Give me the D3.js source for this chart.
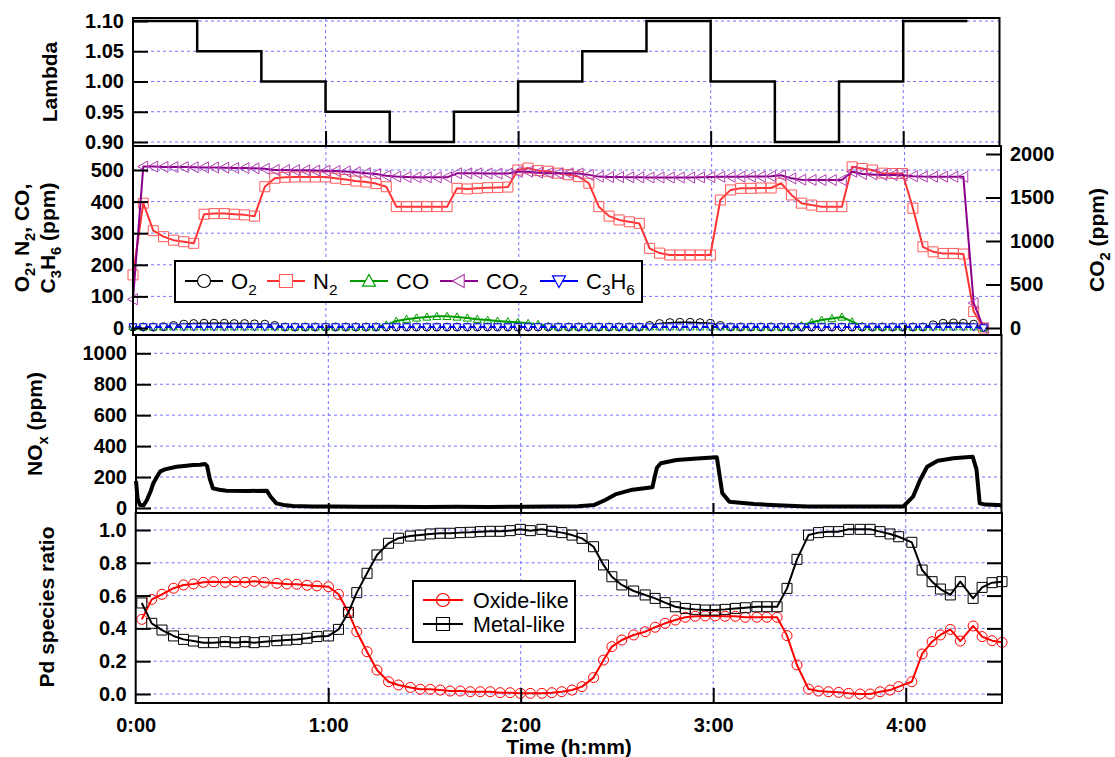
<!DOCTYPE html>
<html><head><meta charset="utf-8">
<script src="https://cdn.jsdelivr.net/npm/d3@7"></script>
<style>body{margin:0;background:#fff} svg{display:block} text{font-family:"Liberation Sans",Arial,Helvetica,sans-serif}</style>
</head><body><svg id="c" width="1115" height="757"></svg>
<script>
// ---------------- DATA ----------------
const timeTicks = [0, 60, 120, 180, 240];
const timeLabels = ["0:00", "1:00", "2:00", "3:00", "4:00"];

const lambdaMinutes = [0, 20, 40, 60, 80, 100, 120, 140, 160, 180, 200, 220, 240, 260];
const lambdaValues = [1.10, 1.05, 1.00, 0.95, 0.90, 0.95, 1.00, 1.05, 1.10, 1.00, 0.90, 1.00, 1.10, 1.10];
const lambdaTicks = [0.90, 0.95, 1.00, 1.05, 1.10];

const gasMinutes = [0, 3.2, 6.3, 9.5, 12.6, 15.8, 18.9, 22.1, 25.2, 28.4, 31.5, 34.7, 37.8, 41.0, 44.1, 47.3, 50.4, 53.6, 56.7, 59.9,
  63.0, 66.2, 69.3, 72.5, 75.6, 78.8, 81.9, 85.1, 88.2, 91.4, 94.5, 97.7, 100.8, 104.0, 107.1, 110.3, 113.4, 116.6, 119.7, 122.9,
  126.0, 129.2, 132.3, 135.5, 138.6, 141.8, 144.9, 148.1, 151.2, 154.4, 157.5, 160.7, 163.8, 167.0, 170.1, 173.3, 176.4, 179.6, 182.7, 185.9,
  189.0, 192.2, 195.3, 198.5, 201.6, 204.8, 207.9, 211.1, 214.2, 217.4, 220.5, 223.7, 226.8, 230.0, 233.1, 236.3, 239.4, 242.6, 245.7, 248.9,
  252.0, 255.2, 258.3, 261.5, 264.6];
const o2Values = [3, 3, 3, 4, 8, 12, 14, 15, 15, 15, 14, 14, 13, 12, 8,
  3, 3, 3, 3, 3, 3, 3, 3, 3, 3, 3, 3, 3, 3, 3, 3, 3, 3, 3, 3, 3, 3, 3, 3, 3, 3, 3, 3, 3, 3, 3, 3, 3, 3, 3, 3,
  8, 14, 17, 18, 18, 17, 15, 8,
  3, 3, 3, 3, 3, 3, 3, 3, 3, 3, 3, 3, 3, 3, 3, 3, 3, 3, 3, 3,
  10, 15, 16, 15, 12, 2];
const n2Values = [168, 395, 308, 289, 278, 273, 268, 360, 362, 362, 360, 358, 354, 447, 474, 477, 478, 478, 478, 478,
  474, 470, 465, 462, 457, 447, 384, 384, 384, 384, 384, 384, 442, 440, 442, 444, 445, 446, 500, 506,
  498, 496, 490, 485, 479, 458, 384, 354, 342, 336, 331, 252, 237, 231, 231, 231, 231, 231, 405, 437,
  442, 442, 443, 443, 458, 421, 395, 389, 384, 384, 384, 510, 505, 500, 490, 489, 489, 379, 257, 241,
  236, 236, 234, 52, 0];
const coValues = [5, 4, 4, 4, 4, 4, 4, 4, 4, 4, 4, 4, 4, 4, 4, 4, 4, 4, 4, 4, 4, 4, 4, 4, 4,
  10, 22, 28, 32, 35, 37, 37, 35, 32, 28, 25, 22, 20, 18, 15, 12, 6,
  4, 4, 4, 4, 4, 4, 4, 4, 4, 4, 4, 4, 4, 4, 4, 4, 4, 4, 4, 4, 4, 4, 4, 4,
  8, 18, 25, 30, 35, 20, 6,
  4, 4, 4, 4, 4, 4, 4, 4, 4, 4, 4, 0];
const co2Values = [330, 1855, 1855, 1852, 1850, 1850, 1848, 1846, 1845, 1843, 1840, 1838, 1835, 1830,
  1816, 1815, 1814, 1812, 1810, 1808, 1805, 1800, 1790, 1780, 1770,
  1750, 1740, 1735, 1732, 1732, 1732, 1732,
  1778, 1778, 1778, 1776, 1776, 1775,
  1795, 1797,
  1785, 1780, 1778, 1778, 1776, 1760,
  1740, 1735, 1735, 1732, 1732, 1730, 1730, 1730, 1730, 1730, 1732, 1735,
  1739, 1739, 1739, 1740, 1740, 1745, 1755,
  1720, 1705, 1701, 1700, 1700, 1700,
  1797,
  1770, 1765, 1760, 1758, 1755,
  1745, 1740, 1739, 1739, 1738, 1738,
  287, 0];
const c3h6Values = [3, 3, 3, 3, 3, 3, 3, 3, 3, 3, 3, 3, 3, 3, 3, 3, 3, 3, 3, 3,
  3, 3, 3, 3, 3, 3, 3, 3, 3, 3, 3, 3, 3, 3, 3, 3, 3, 3, 3, 3,
  3, 3, 3, 3, 3, 3, 3, 3, 3, 3, 3, 3, 3, 3, 3, 3, 3, 3, 3, 3,
  3, 3, 3, 3, 3, 3, 3, 3, 3, 3, 3, 3, 3, 3, 3, 3, 3, 3, 3, 3,
  3, 3, 3, 3, 0];
const gasLeftTicks = [0, 100, 200, 300, 400, 500];
const gasRightTicks = [0, 500, 1000, 1500, 2000];

const noxMinutes = [0, 0.5, 1.2, 2.4, 3.4, 4.6, 5.4, 6.5, 7.5, 9, 12.6, 15, 17.8, 20, 21.5, 22.2, 23, 24, 26, 28.2,
  35, 40.8, 42, 43.8, 46, 49, 55, 62, 70, 80, 90, 100, 110, 120, 130, 138, 143, 146.4, 149.8, 154.3,
  161.1, 161.8, 162.5, 163.7, 168.6, 175, 181.2, 182.9, 185.1, 192.8, 200, 209.4, 220, 230, 239.4,
  242.4, 244.6, 246.8, 250.1, 255, 261, 262.2, 263.2, 265, 268.8, 270];
const noxValues = [175, 60, 20, 18, 52, 110, 160, 200, 235, 250, 267, 272, 278, 280, 285, 270, 190, 127, 118, 112,
  110, 112, 73, 30, 20, 13, 10, 9, 8, 8, 7, 8, 7, 8, 9, 12, 20, 52, 90, 116,
  134, 200, 260, 289, 310, 320, 328, 95, 41, 26, 18, 9, 9, 9, 10,
  73, 181, 267, 306, 322, 332, 250, 30, 22, 20, 18];
const noxTicks = [0, 200, 400, 600, 800, 1000];

const pdMinutes = [1.9, 5.0, 8.2, 11.8, 14.9, 18.0, 21.1, 24.3, 27.9, 31.0, 34.1, 36.9, 40.1, 44.0, 47.1, 50.2, 53.4, 56.5, 60.1, 63.2,
  66.3, 68.9, 72.1, 75.2, 78.8, 81.9, 85.6, 88.7, 91.8, 94.9, 98.0, 101.2, 104.3, 107.4, 110.5, 113.6, 116.7, 119.9, 123.0, 126.6,
  129.7, 132.8, 136.0, 139.1, 142.7, 145.8, 148.4, 151.5, 155.2, 158.8, 161.9, 165.0, 168.2, 171.3, 174.4, 177.5, 180.6, 183.7, 186.9, 190.0,
  193.6, 196.7, 199.9, 203.0, 206.1, 209.7, 212.8, 215.9, 219.1, 222.2, 225.8, 228.9, 232.0, 235.1, 237.8, 241.9, 245.1, 248.2, 250.8, 253.9,
  257.0, 261.0, 263.8, 266.9, 270.0];
const oxideValues = [0.455, 0.577, 0.608, 0.645, 0.665, 0.671, 0.681, 0.685, 0.681, 0.685, 0.681, 0.687, 0.681, 0.675, 0.671, 0.669, 0.663, 0.659, 0.654, 0.608,
  0.498, 0.380, 0.258, 0.146, 0.075, 0.055, 0.040, 0.029, 0.029, 0.024, 0.018, 0.018, 0.014, 0.014, 0.014, 0.008, 0.008, 0.004, 0.004, 0.004,
  0.008, 0.014, 0.024, 0.045, 0.100, 0.207, 0.289, 0.329, 0.360, 0.380, 0.407, 0.431, 0.451, 0.468, 0.474, 0.476, 0.476, 0.474, 0.474, 0.468,
  0.468, 0.468, 0.468, 0.356, 0.177, 0.030, 0.018, 0.014, 0.010, 0.004, 0.000, 0.000, 0.014, 0.024, 0.045, 0.075, 0.244, 0.319, 0.360, 0.394,
  0.323, 0.415, 0.350, 0.325, 0.315];
const metalValues = [0.555, 0.431, 0.390, 0.354, 0.333, 0.323, 0.313, 0.313, 0.319, 0.313, 0.319, 0.313, 0.319, 0.325, 0.329, 0.333, 0.340, 0.350, 0.354, 0.394,
  0.498, 0.618, 0.736, 0.848, 0.919, 0.950, 0.963, 0.969, 0.976, 0.980, 0.980, 0.984, 0.986, 0.990, 0.992, 0.992, 0.996, 1.004, 0.996, 1.004,
  0.992, 0.984, 0.969, 0.949, 0.898, 0.787, 0.715, 0.665, 0.628, 0.604, 0.583, 0.557, 0.532, 0.522, 0.516, 0.512, 0.512, 0.516, 0.522, 0.526,
  0.532, 0.532, 0.532, 0.644, 0.821, 0.969, 0.984, 0.990, 0.990, 1.004, 1.004, 1.004, 0.990, 0.976, 0.959, 0.925, 0.756, 0.685, 0.640, 0.604,
  0.685, 0.583, 0.650, 0.679, 0.685];
const pdTicks = [0, 0.2, 0.4, 0.6, 0.8, 1.0];

// ---------------- LAYOUT ----------------
const svg = d3.select("#c");
const GRID = "#7474ff";
const TICKFONT = 20, TITLEFONT = 21;

const P1 = {x0: 133, x1: 999.5, y0: 18, y1: 146};
const P2 = {x0: 133, x1: 1001, y0: 146, y1: 335};
const P3 = {x0: 136, x1: 1001.5, y0: 335, y1: 513};
const P4 = {x0: 135.7, x1: 1002, y0: 513, y1: 703};

const x1s = d3.scaleLinear().domain([0, 270]).range([P1.x0, P1.x1]);
const x2s = d3.scaleLinear().domain([0, 270]).range([P2.x0, P2.x1]);
const x3s = d3.scaleLinear().domain([0, 270]).range([P3.x0, P3.x1]);
const x4s = d3.scaleLinear().domain([0, 270]).range([P4.x0, P4.x1]);

const y1s = d3.scaleLinear().domain([0.90, 1.10]).range([142, 21]);
const y2L = d3.scaleLinear().domain([0, 500]).range([328, 170]);
const y2R = d3.scaleLinear().domain([0, 2000]).range([328, 154]);
const y3s = d3.scaleLinear().domain([0, 1000]).range([508, 353.3]);
const y4s = d3.scaleLinear().domain([0, 1]).range([694, 530]);

function grids(P, xs, ys, yvals) {
  const g = svg.append("g").attr("stroke", GRID).attr("stroke-width", 1).attr("stroke-dasharray", "3,3").attr("fill", "none");
  yvals.forEach(v => g.append("line").attr("x1", P.x0).attr("x2", P.x1).attr("y1", ys(v)).attr("y2", ys(v)));
  timeTicks.slice(1).forEach(t => g.append("line").attr("x1", xs(t)).attr("x2", xs(t)).attr("y1", P.y0).attr("y2", P.y1));
}
function styleAxis(g) {
  g.select(".domain").remove();
  g.selectAll(".tick line").attr("stroke", "#000").attr("stroke-width", 2);
  g.selectAll(".tick text").attr("font-size", TICKFONT).attr("font-weight", "bold").attr("fill", "#000")
    .attr("font-family", '"Liberation Sans",Arial,sans-serif');
}
function leftAxis(P, ys, vals, fmt, len) {
  const g = svg.append("g").attr("transform", `translate(${P.x0},0)`)
    .call(d3.axisLeft(ys).tickValues(vals).tickFormat(fmt).tickSize(-len).tickPadding(9));
  styleAxis(g);
}
function rightAxis(P, ys, vals, fmt, len, labels) {
  const g = svg.append("g").attr("transform", `translate(${P.x1},0)`)
    .call(d3.axisRight(ys).tickValues(vals).tickFormat(labels ? fmt : () => "").tickSize(-len).tickPadding(9));
  styleAxis(g);
}
function bottomAxis(P, xs, len, labels) {
  const g = svg.append("g").attr("transform", `translate(0,${P.y1})`)
    .call(d3.axisBottom(xs).tickValues(timeTicks).tickFormat((d, i) => labels ? timeLabels[i] : "").tickSize(-len).tickPadding(15));
  styleAxis(g);
  g.selectAll(".tick").filter(d => d === 0).select("line").remove();
}
function frame(P) {
  svg.append("rect").attr("x", P.x0).attr("y", P.y0).attr("width", P.x1 - P.x0).attr("height", P.y1 - P.y0)
    .attr("fill", "none").attr("stroke", "#000").attr("stroke-width", 2);
}
function markerPath(type, s) {
  switch (type) {
    case "square": return `M${-s},${-s}H${s}V${s}H${-s}Z`;
    case "up": return `M0,${-s}L${s},${s * 0.8}L${-s},${s * 0.8}Z`;
    case "down": return `M0,${s}L${s},${-s * 0.8}L${-s},${-s * 0.8}Z`;
    case "left": return `M${-s},0L${s * 0.8},${-s}L${s * 0.8},${s}Z`;
    default: return `M${s},0A${s},${s} 0 1,1 ${-s},0A${s},${s} 0 1,1 ${s},0Z`;
  }
}
function series(xs, ys, xv, yv, st) {
  const pts = xv.map((t, i) => [xs(t), ys(yv[i])]).filter((p, i) => i < yv.length);
  svg.append("path").attr("d", d3.line()(pts)).attr("fill", "none").attr("stroke", st.line)
    .attr("stroke-width", st.lw).attr("stroke-linejoin", "round");
  if (st.marker) {
    svg.append("g").selectAll("path").data(pts).join("path")
      .attr("transform", p => `translate(${p[0]},${p[1]})`)
      .attr("d", markerPath(st.marker, st.ms)).attr("fill", st.fill || "none")
      .attr("stroke", st.mc).attr("stroke-width", st.mw || 1);
  }
}
function richText(parent, parts, size, weight) {
  const t = parent.append("text").attr("font-size", size).attr("font-weight", weight || "normal").attr("fill", "#000");
  let sub = false;
  parts.forEach(([s, isSub]) => {
    const sp = t.append("tspan").text(s);
    if (isSub && !sub) { sp.attr("dy", size * 0.28).attr("font-size", size * 0.7); }
    else if (isSub) { sp.attr("font-size", size * 0.7); }
    else if (!isSub && sub) { sp.attr("dy", -size * 0.28); }
    sub = isSub;
  });
  return t;
}
function rotTitle(parts, x, y, size) {
  const g = svg.append("g").attr("transform", `translate(${x},${y}) rotate(-90)`);
  richText(g, parts, size || TITLEFONT, "bold").attr("text-anchor", "middle");
}

// ---------------- PANEL 1: Lambda ----------------
grids(P1, x1s, y1s, lambdaTicks);
svg.append("path")
  .attr("d", d3.line().curve(d3.curveStepAfter).x((d, i) => x1s(lambdaMinutes[i])).y(d => y1s(d))(lambdaValues))
  .attr("fill", "none").attr("stroke", "#000").attr("stroke-width", 2.5);
leftAxis(P1, y1s, lambdaTicks, d3.format(".2f"), 15);
bottomAxis(P1, x1s, 15, false);
frame(P1);
rotTitle([["Lambda", 0]], 56.5, 82);

// ---------------- PANEL 2: gases ----------------
grids(P2, x2s, y2L, gasLeftTicks.slice(1));
series(x2s, y2L, gasMinutes, o2Values, {line: "#000", lw: 1.5, marker: "circle", ms: 4, mc: "#000"});
series(x2s, y2L, gasMinutes, n2Values, {line: "#ff3333", lw: 2, marker: "square", ms: 5, mc: "#ff5a5a"});
series(x2s, y2L, gasMinutes, coValues, {line: "#009900", lw: 2, marker: "up", ms: 4, mc: "#00a000"});
series(x2s, y2R, gasMinutes, co2Values, {line: "#8b008b", lw: 2, marker: "left", ms: 5.5, mc: "#b040b0"});
series(x2s, y2L, gasMinutes, c3h6Values, {line: "#0000ff", lw: 2, marker: "down", ms: 4, mc: "#0000ff", fill: "#fff"});
leftAxis(P2, y2L, gasLeftTicks, d3.format("d"), 15);
rightAxis(P2, y2R, gasRightTicks, d3.format("d"), 15, true);
bottomAxis(P2, x2s, 10, false);
frame(P2);
rotTitle([["O", 0], ["2", 1], [", N", 0], ["2", 1], [", CO,", 0]], 29, 238);
rotTitle([["C", 0], ["3", 1], ["H", 0], ["6", 1], [" (ppm)", 0]], 55, 238);
rotTitle([["CO", 0], ["2", 1], [" (ppm)", 0]], 1104, 240);

// legend panel 2
const leg2 = [
  {name: [["O", 0], ["2", 1]], line: "#000", marker: "circle", mc: "#000"},
  {name: [["N", 0], ["2", 1]], line: "#ff3333", marker: "square", mc: "#ff5a5a"},
  {name: [["CO", 0]], line: "#009900", marker: "up", mc: "#00a000"},
  {name: [["CO", 0], ["2", 1]], line: "#8b008b", marker: "left", mc: "#b040b0"},
  {name: [["C", 0], ["3", 1], ["H", 0], ["6", 1]], line: "#0000ff", marker: "down", mc: "#0000ff"}
];
const leg2X = [185, 267, 350, 440, 540];
svg.append("rect").attr("x", 175).attr("y", 261).attr("width", 467).attr("height", 41)
  .attr("fill", "#fff").attr("stroke", "#000").attr("stroke-width", 2);
leg2.forEach((d, i) => {
  const g = svg.append("g").attr("transform", `translate(${leg2X[i]},281)`);
  g.append("line").attr("x1", 0).attr("x2", 38).attr("stroke", d.line).attr("stroke-width", 2);
  g.append("path").attr("transform", "translate(19,0)").attr("d", markerPath(d.marker, 6.5))
    .attr("fill", "#fff").attr("stroke", d.mc).attr("stroke-width", 1.2);
  richText(g, d.name, 22).attr("x", 46).attr("y", 8);
});

// ---------------- PANEL 3: NOx ----------------
grids(P3, x3s, y3s, noxTicks);
svg.append("path").attr("d", d3.line().x((d, i) => x3s(noxMinutes[i])).y(d => y3s(d))(noxValues))
  .attr("fill", "none").attr("stroke", "#000").attr("stroke-width", 4).attr("stroke-linejoin", "round");
leftAxis(P3, y3s, noxTicks, d3.format("d"), 15);
bottomAxis(P3, x3s, 10, false);
frame(P3);
rotTitle([["NO", 0], ["x", 1], [" (ppm)", 0]], 42, 424);

// ---------------- PANEL 4: Pd species ----------------
grids(P4, x4s, y4s, pdTicks);
series(x4s, y4s, pdMinutes, oxideValues, {line: "#ff0000", lw: 2, marker: "circle", ms: 5, mc: "#ff0000"});
series(x4s, y4s, pdMinutes, metalValues, {line: "#000", lw: 2, marker: "square", ms: 5, mc: "#000"});
leftAxis(P4, y4s, pdTicks, d3.format(".1f"), 15);
rightAxis(P4, y4s, pdTicks, d3.format(".1f"), 15, false);
bottomAxis(P4, x4s, 15, true);
frame(P4);
rotTitle([["Pd species ratio", 0]], 53.5, 607);
svg.append("text").attr("x", 569).attr("y", 754).attr("text-anchor", "middle")
  .attr("font-size", TITLEFONT).attr("font-weight", "bold").text("Time (h:mm)");

// legend panel 4
svg.append("rect").attr("x", 413).attr("y", 581).attr("width", 162).attr("height", 61)
  .attr("fill", "#fff").attr("stroke", "#000").attr("stroke-width", 2);
[{n: "Oxide-like", c: "#ff0000", m: "circle", y: 600}, {n: "Metal-like", c: "#000", m: "square", y: 624}].forEach(d => {
  const g = svg.append("g").attr("transform", `translate(423,${d.y})`);
  g.append("line").attr("x1", 0).attr("x2", 40).attr("stroke", d.c).attr("stroke-width", 2);
  g.append("path").attr("transform", "translate(20,0)").attr("d", markerPath(d.m, 6.5))
    .attr("fill", "none").attr("stroke", d.c).attr("stroke-width", 1.2);
  g.append("text").attr("x", 50).attr("y", 7.5).attr("font-size", 21.5).text(d.n);
});
</script></body></html>
